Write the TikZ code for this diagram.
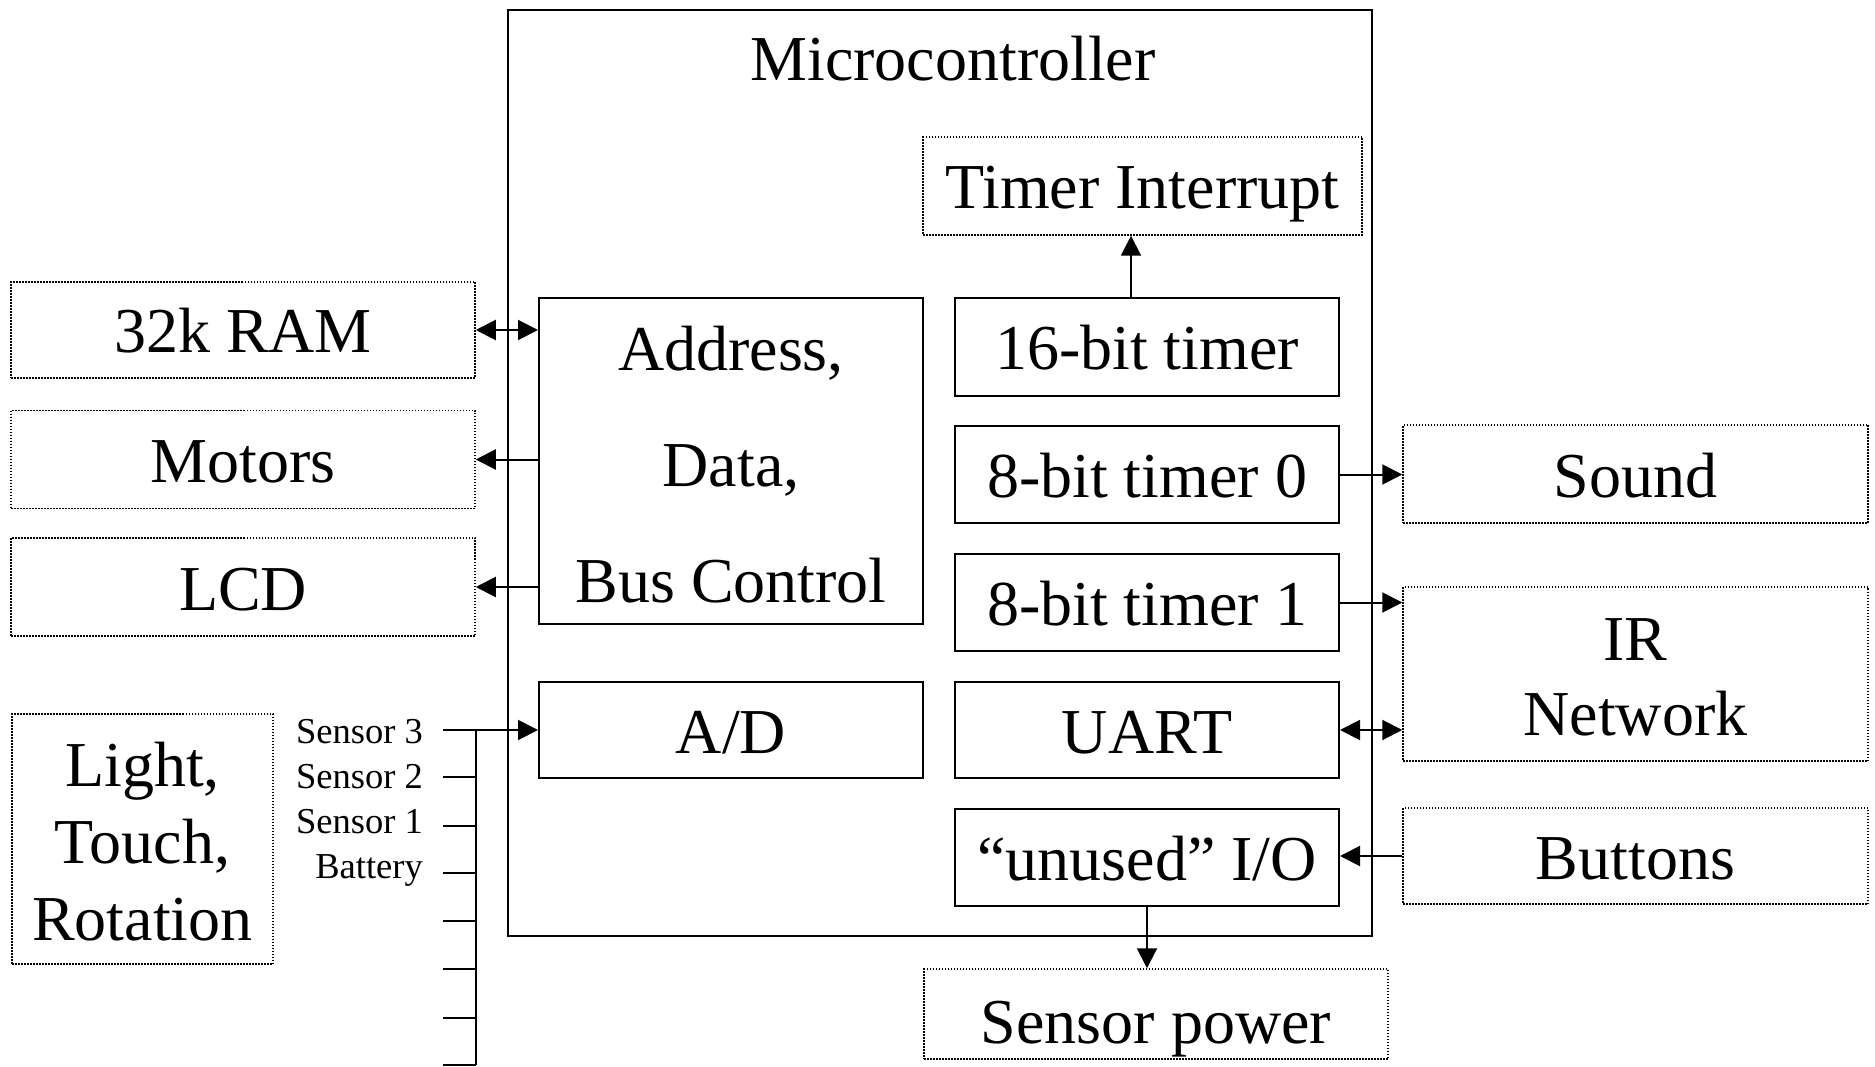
\documentclass[tikz,border=0pt]{standalone}
\usepackage{fontspec}
\setmainfont{Liberation Serif}
\usetikzlibrary{arrows.meta}

\begin{document}
\begin{tikzpicture}[x=1pt,y=-1pt,
  bigtext/.style={font=\fontsize{64}{76}\selectfont},
  oneline/.style={text height=46pt, text depth=0pt},
  unit/.style={draw, line width=2pt, inner sep=0pt, align=center, bigtext, oneline},
  periph/.style={draw, line width=1.5pt, dash pattern=on 1.5pt off 1.5pt,
                 inner sep=0pt, align=center, bigtext, oneline},
  stacked/.style 2 args={label={[inner sep=0pt, align=center,
                 font=\fontsize{64}{#1}\selectfont, yshift=-#2]center:}},
  pin/.style={font=\fontsize{36.5}{40}\selectfont, inner sep=0pt, anchor=base east},
  wire/.style={line width=2pt},
  link/.style={wire, -{Triangle[length=20pt,width=20pt]}},
  duplex/.style={wire, {Triangle[length=20pt,width=20pt]}-{Triangle[length=20pt,width=20pt]}}
]
\useasboundingbox (0,0) rectangle (1875,1067);

% microcontroller outline and title
\node[unit, minimum width=864, minimum height=926] (mcu) at (940,473) {};
\node[bigtext, inner sep=0pt, anchor=base] (title) at (953,81) {Microcontroller};

% internal units
\node[unit, minimum width=384, minimum height=326,
      label={[inner sep=0pt, align=center, font=\fontsize{64}{116}\selectfont, yshift=-3.5pt]center:Address,\\Data,\\Bus Control}] (bus) at (731,461) {};
\node[unit, minimum width=384, minimum height=96] (ad) at (731,730) {A/D};
\node[unit, minimum width=384, minimum height=97] (t16) at (1147,347) {16-bit timer};
\node[unit, minimum width=384, minimum height=97] (t0) at (1147,474.5) {8-bit timer 0};
\node[unit, minimum width=384, minimum height=97] (t1) at (1147,602.5) {8-bit timer 1};
\node[unit, minimum width=384, minimum height=96] (uart) at (1147,730) {UART};
\node[unit, minimum width=384, minimum height=97] (unused) at (1147,857) {“unused” I/O};

% peripherals
\node[periph, minimum width=439, minimum height=98] (tint) at (1142.5,186) {Timer Interrupt};
\node[periph, minimum width=464, minimum height=96] (ram) at (243,330) {32k RAM};
\node[periph, minimum width=464, minimum height=98] (motors) at (243,459.5) {Motors};
\node[periph, minimum width=464, minimum height=98] (lcd) at (243,587) {LCD};
\node[periph, minimum width=261, minimum height=250,
      label={[inner sep=0pt, align=center, font=\fontsize{64}{77}\selectfont, yshift=-2.5pt]center:Light,\\Touch,\\Rotation}] (sens) at (142.5,839) {};
\node[periph, minimum width=465, minimum height=98] (sound) at (1635.5,474) {Sound};
\node[periph, minimum width=465, minimum height=174,
      label={[inner sep=0pt, align=center, font=\fontsize{64}{75}\selectfont, yshift=-3.5pt]center:IR\\Network}] (ir) at (1635.5,674) {};
\node[periph, minimum width=465, minimum height=96] (buttons) at (1635.5,856) {Buttons};
\node[periph, minimum width=464, minimum height=90, text height=58pt] (spower) at (1156,1014) {Sensor power};

% bus connections
\draw[duplex] (ram.east) -- (ram.east -| bus.west);
\draw[link] (motors.east -| bus.west) -- (motors.east);
\draw[link] (lcd.east -| bus.west) -- (lcd.east);

% timers and I/O
\draw[link] ([xshift=-16pt]t16.north) -- ([xshift=-16pt]t16.north |- tint.south);
\draw[link] (t0.east) -- (t0.east -| sound.west);
\draw[link] (t1.east) -- (t1.east -| ir.west);
\draw[duplex] (uart.east) -- (uart.east -| ir.west);
\draw[link] (buttons.west) -- (buttons.west -| unused.east);
\draw[link] (unused.south) -- (unused.south |- spower.north);

% sensor inputs
\node[pin] (s3) at (423,743) {Sensor 3};
\node[pin] (s2) at (423,788) {Sensor 2};
\node[pin] (s1) at (423,833) {Sensor 1};
\node[pin] (bat) at (423,878) {Battery};

\coordinate (bartop) at (476,730);
\coordinate (barbot) at (476,1065);
\coordinate (in3) at (443,730);
\draw[link] (in3) -- (in3 -| ad.west);
\draw[wire] (bartop) -- (barbot);
\foreach \yy [count=\k] in {777,826,873,921,969,1018,1065} {
  \coordinate (tick\k) at (443,\yy);
  \draw[wire] (tick\k) -- (tick\k -| bartop);
}
\end{tikzpicture}
\end{document}
